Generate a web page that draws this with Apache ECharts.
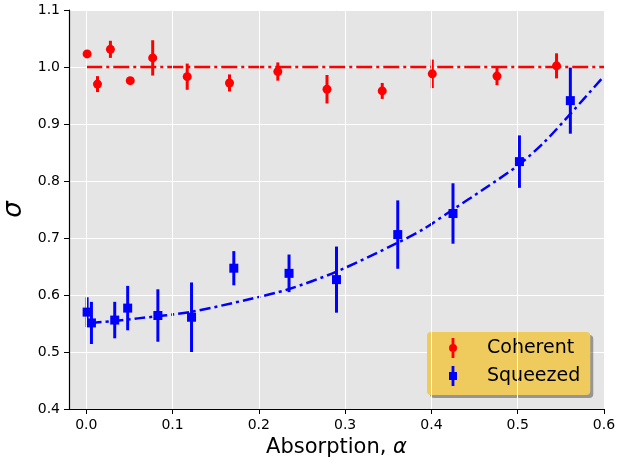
<!DOCTYPE html>
<html>
<head>
<meta charset="utf-8">
<script src="https://cdn.jsdelivr.net/npm/echarts@6/dist/echarts.min.js"></script>
<style>
  html, body { margin: 0; padding: 0; background: #fff; }
  #chart { width: 618px; height: 466px; }
</style>
</head>
<body>
<div id="chart"></div>
<script>
// values
const xTicks = [0, 0.1, 0.2, 0.3, 0.4, 0.5, 0.6];

const cohX   = [0.001, 0.013, 0.028, 0.051, 0.077, 0.117, 0.166, 0.222, 0.279, 0.343, 0.401, 0.476, 0.545];
const cohY   = [1.023, 0.970, 1.031, 0.976, 1.016, 0.983, 0.972, 0.992, 0.961, 0.958, 0.988, 0.984, 1.002];
const cohErr = [0.005, 0.014, 0.015, 0.004, 0.031, 0.023, 0.015, 0.016, 0.025, 0.014, 0.025, 0.016, 0.022];

const sqzX   = [0.001, 0.006, 0.033, 0.048, 0.083, 0.122, 0.171, 0.235, 0.290, 0.361, 0.425, 0.502, 0.561];
const sqzY   = [0.570, 0.551, 0.556, 0.577, 0.564, 0.561, 0.647, 0.638, 0.627, 0.706, 0.743, 0.834, 0.941];
const sqzErr = [0.026, 0.037, 0.032, 0.039, 0.046, 0.061, 0.030, 0.033, 0.058, 0.060, 0.053, 0.046, 0.058];

// theory curves
const cohFitX = [0, 0.6];
const cohFitY = [1.0, 1.0];
const sqzFitX = [0.005, 0.03, 0.06, 0.12, 0.19, 0.234, 0.29, 0.36, 0.39, 0.425, 0.46, 0.5, 0.53, 0.56, 0.6];
const sqzFitY = [0.551, 0.554, 0.559, 0.570, 0.593, 0.610, 0.641, 0.691, 0.715, 0.750, 0.785, 0.827, 0.867, 0.916, 0.984];

const font = 'DejaVu Sans';
const chart = echarts.init(document.getElementById('chart'));

function errBar(color) {
  return function (params, api) {
    const a = api.coord([api.value(0), api.value(1)]);
    const b = api.coord([api.value(0), api.value(2)]);
    return {
      type: 'line',
      shape: { x1: a[0], y1: a[1], x2: b[0], y2: b[1] },
      style: { stroke: color, lineWidth: 3 }
    };
  };
}

const zip = (xs, ys) => xs.map((x, i) => [x, ys[i]]);
const bars = (xs, ys, es) => xs.map((x, i) => [x, ys[i] - es[i], ys[i] + es[i]]);

const cohIcon = 'path://M2.6 0H5.4V20H2.6Z M0 10A4 4 0 1 1 8 10A4 4 0 1 1 0 10Z';
const sqzIcon = 'path://M2.6 0H5.4V20H2.6Z M0 6H8V14H0Z';

const option = {
  animation: false,
  grid: {
    left: 69, right: 14, top: 10, bottom: 57,
    containLabel: false, outerBoundsMode: 'none',
    show: true, backgroundColor: '#e5e5e5', borderWidth: 0
  },
  xAxis: {
    type: 'value', min: -0.02, max: 0.6,
    name: 'Absorption, {i|α}', nameLocation: 'middle', nameGap: 28,
    nameTextStyle: {
      fontFamily: font, fontSize: 21, color: '#000',
      rich: { i: { fontFamily: font, fontSize: 21, fontStyle: 'italic', color: '#000' } }
    },
    axisLine: { show: true, onZero: false, lineStyle: { color: '#000', width: 1.2 } },
    axisTick: { show: true, customValues: xTicks, length: 5, lineStyle: { color: '#000' } },
    axisLabel: {
      customValues: xTicks, margin: 9,
      fontFamily: font, fontSize: 14, color: '#000',
      formatter: v => v.toFixed(1)
    },
    splitLine: { show: false }
  },
  yAxis: {
    type: 'value', min: 0.4, max: 1.1, interval: 0.1,
    name: 'σ', nameLocation: 'middle', nameGap: 38,
    nameTextStyle: { fontFamily: font, fontSize: 26, fontStyle: 'italic', color: '#000' },
    axisLine: { show: true, onZero: false, lineStyle: { color: '#000', width: 1.2 } },
    axisTick: { show: true, length: 5, lineStyle: { color: '#000' } },
    axisLabel: {
      margin: 9, fontFamily: font, fontSize: 14, color: '#000',
      formatter: v => v.toFixed(1)
    },
    splitLine: { show: true, lineStyle: { color: '#fff', width: 1 } }
  },
  legend: {
    orient: 'vertical',
    left: 427, top: 332,
    padding: [6, 10, 9, 22],
    itemWidth: 8, itemHeight: 20, itemGap: 8,
    selectedMode: false,
    backgroundColor: '#eecb5c',
    borderRadius: 4,
    shadowColor: 'rgba(0,0,0,0.35)', shadowBlur: 0, shadowOffsetX: 3, shadowOffsetY: 3,
    textStyle: { fontFamily: font, fontSize: 19, color: '#000', padding: [0, 0, 0, 25], lineHeight: 20 },
    data: [
      { name: 'Coherent', icon: cohIcon, itemStyle: { color: '#ff0000' } },
      { name: 'Squeezed', icon: sqzIcon, itemStyle: { color: '#0000ff' } }
    ]
  },
  series: [
    {
      // vertical grid lines at the x ticks
      type: 'line', name: 'grid', data: [], z: 0, silent: true,
      markLine: {
        silent: true, symbol: 'none', animation: false,
        label: { show: false },
        lineStyle: { color: '#fff', width: 1, type: 'solid' },
        data: xTicks.map(v => ({ xAxis: v }))
      }
    },
    {
      type: 'line', name: 'Coherent', data: zip(cohFitX, cohFitY), z: 3,
      symbol: 'none', lineStyle: { color: '#ff0000', width: 2.5, type: [16, 4, 3, 4] }
    },
    {
      type: 'line', name: 'Squeezed', data: zip(sqzFitX, sqzFitY), z: 3, smooth: 0.3,
      symbol: 'none', lineStyle: { color: '#0000ff', width: 2.5, type: [11, 4, 3, 4] }
    },
    {
      type: 'custom', name: 'Coherent', data: bars(cohX, cohY, cohErr), z: 4,
      encode: { x: 0, y: [1, 2] }, renderItem: errBar('#ff0000')
    },
    {
      type: 'scatter', name: 'Coherent', data: zip(cohX, cohY), z: 5,
      symbol: 'circle', symbolSize: 9, itemStyle: { color: '#ff0000', opacity: 1 }
    },
    {
      type: 'custom', name: 'Squeezed', data: bars(sqzX, sqzY, sqzErr), z: 4,
      encode: { x: 0, y: [1, 2] }, renderItem: errBar('#0000ff')
    },
    {
      type: 'scatter', name: 'Squeezed', data: zip(sqzX, sqzY), z: 5,
      symbol: 'rect', symbolSize: 9, itemStyle: { color: '#0000ff', opacity: 1 }
    }
  ]
};

chart.setOption(option);
</script>
</body>
</html>
